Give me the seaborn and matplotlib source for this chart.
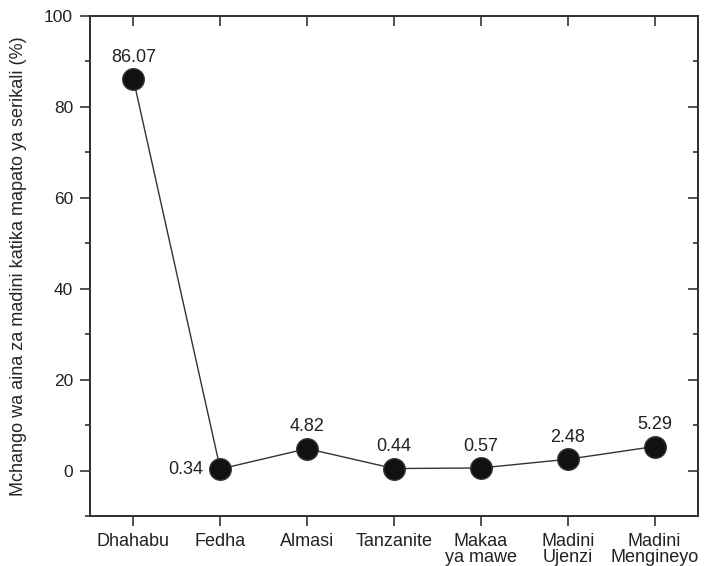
import matplotlib
matplotlib.use("Agg")
import matplotlib.pyplot as plt
import seaborn as sns
import pandas as pd
from matplotlib.ticker import MultipleLocator

categories = ["Dhahabu", "Fedha", "Almasi", "Tanzanite", "Makaa\nya mawe", "Madini\nUjenzi", "Madini\nMengineyo"]
values = [86.07, 0.34, 4.82, 0.44, 0.57, 2.48, 5.29]
value_labels = ["86.07", "0.34", "4.82", "0.44", "0.57", "2.48", "5.29"]
yticks = [0, 20, 40, 60, 80, 100]
ylabel = "Mchango wa aina za madini katika mapato ya serikali (%)"

sns.set_style("white")
plt.rcParams['font.family'] = ['Liberation Sans', 'DejaVu Sans']
plt.rcParams['text.color'] = "#222222"

df = pd.DataFrame({"pos": range(len(categories)), "val": values})

fig = plt.figure(figsize=(7.15, 5.66), dpi=100)
ax = fig.add_axes([90/715, 1 - 516/566, (698-90)/715, (516-16)/566])

sns.lineplot(data=df, x="pos", y="val", ax=ax, color="#333333", linewidth=1.0,
             marker="o", markersize=15.5, markerfacecolor="#111111",
             markeredgecolor="#333333", markeredgewidth=1.0)

ax.set_xlim(-0.5, len(categories) - 0.5)
ax.set_ylim(-10, 100)
ax.set_xticks(range(len(categories)))
ax.set_xticklabels(categories, fontsize=13, linespacing=0.9)
ax.set_yticks(yticks)
ax.yaxis.set_minor_locator(MultipleLocator(10))
ax.set_xlabel("")
ax.set_ylabel(ylabel, fontsize=13)
ax.yaxis.set_label_coords(-0.104, 0.5)
ax.tick_params(axis="both", which="major", direction="out", length=7.2, width=1.2,
               color="#333333", labelcolor="#222222", pad=5)
ax.tick_params(axis="y", which="major", labelsize=12.5)
ax.tick_params(axis="y", which="minor", direction="out", length=3.6, width=1.2, color="#333333")
ax.tick_params(axis="x", labelsize=13)

for s in ax.spines.values():
    s.set_color("#333333")
    s.set_linewidth(1.2)

# mirrored ticks on right and top (pointing inward)
axr = ax.twinx()
axr.set_ylim(ax.get_ylim())
axr.set_yticks(yticks)
axr.yaxis.set_minor_locator(MultipleLocator(10))
axr.tick_params(axis="y", which="major", direction="in", length=7.2, width=1.2,
                color="#333333", labelright=False, left=False, right=True)
axr.tick_params(axis="y", which="minor", direction="in", length=3.6, width=1.2,
                color="#333333", left=False, right=True)
axt = ax.twiny()
axt.set_xlim(ax.get_xlim())
axt.set_xticks(range(len(categories)))
axt.tick_params(axis="x", direction="in", length=7.2, width=1.2, color="#333333",
                labeltop=False, top=True, bottom=False)
for a in (axr, axt):
    for s in a.spines.values():
        s.set_color("#333333")
        s.set_linewidth(1.2)

for i, (v, t) in enumerate(zip(values, value_labels)):
    if i == 1:
        ax.annotate(t, (i, v), xytext=(-12, 0), textcoords="offset points",
                    ha="right", va="center", fontsize=13, color="#222222")
    else:
        ax.annotate(t, (i, v), xytext=(0, 9.5), textcoords="offset points",
                    ha="center", va="bottom", fontsize=13, color="#222222")

fig.savefig("out.png", dpi=100)
